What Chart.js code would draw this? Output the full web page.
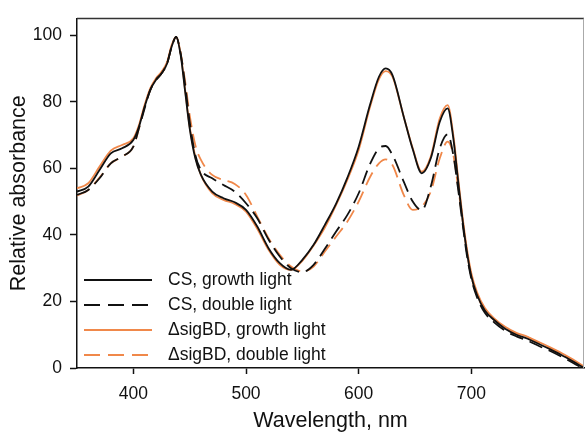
<!DOCTYPE html>
<html>
<head>
<meta charset="utf-8">
<script src="https://cdn.jsdelivr.net/npm/chart.js@4/dist/chart.umd.min.js"></script>
<style>
  html, body { margin: 0; padding: 0; background: #fff; }
  #wrap { width: 585px; height: 433px; }
</style>
</head>
<body>
<div id="wrap"><canvas id="chart" width="585" height="433"></canvas></div>
<script>
// Wavelength grid (nm)
const wavelengths = [350, 360, 370, 380, 390, 400, 405, 410, 415, 420, 425, 430, 434, 438, 442, 446, 450, 455, 460, 470,
  480, 490, 500, 510, 520, 530, 540, 550, 560, 570, 580, 590, 600, 610, 618, 624, 630, 640, 648, 656,
  664, 672, 679, 684, 688, 692, 696, 700, 705, 712, 720, 730, 740, 750, 760, 770, 780, 790, 800];

const csGrowth = [53, 54.5, 59.5, 64.5, 66, 68.5, 72.5, 78.5, 83.5, 86.5, 88.5, 91.5, 96.5, 99.5, 94, 83, 72, 63, 58, 53,
  51, 49.8, 47.5, 42.5, 36, 31.5, 29.5, 32.5, 37, 43, 49.4, 57.2, 66.5, 79, 87.5, 90, 88, 75.5, 65.7, 58.5,
  63, 74, 78, 69, 57, 45, 35, 27.5, 22, 17.3, 14.5, 11.8, 10, 8.8, 7.2, 5.6, 3.9, 2.0, 0];

const csDouble = [52, 53.5, 57, 61.5, 63.5, 66.5, 72, 78, 83.5, 86.5, 88.5, 91.5, 96.5, 99.5, 94.5, 85, 74, 64, 59.5, 57,
  55, 53, 49.5, 45, 38.6, 33.5, 30, 28.8, 31, 35.8, 41, 46, 52.5, 61.2, 66, 66.7, 64, 56, 50, 47.4,
  54.5, 66, 70.2, 64, 54.4, 44, 34, 26.8, 21.3, 16.6, 13.8, 11.2, 9.5, 8.2, 6.6, 5.1, 3.4, 1.6, -0.3];

const sigGrowth = [54, 55.5, 60.5, 65.3, 67, 69, 73, 79, 84, 87, 89, 92, 97, 99.5, 94.5, 83.5, 72.5, 63.5, 58, 52.5,
  50.5, 49.3, 47, 41.8, 35.5, 31, 29.5, 32.2, 36.8, 42.2, 49, 56.6, 65.5, 78.3, 86.8, 89.2, 87.5, 75.5, 66, 59,
  63.5, 75, 79, 70, 58, 46, 36, 28.5, 22.8, 18, 15, 12.4, 10.6, 9.4, 7.8, 6.2, 4.5, 2.6, 0.5];

const sigDouble = [51.8, 53.5, 57.2, 61.5, 63.5, 66.5, 72, 78.5, 83.5, 86.5, 88.5, 91.5, 96.5, 99.5, 94.5, 86, 76, 67, 62.5, 58,
  56.5, 55.3, 52, 45.5, 39, 34, 30.5, 29, 30.5, 35, 39.5, 44, 50, 57.3, 61.5, 62.7, 61, 52, 47.5, 48.5,
  53, 63, 68, 64, 55, 45, 35, 27.5, 22, 17.3, 14.5, 12, 10.3, 9.2, 7.5, 5.9, 4.2, 2.3, 0.3];

const seriesLabels = ["CS, growth light", "CS, double light", "\u0394sigBD, growth light", "\u0394sigBD, double light"];
const xTicks = [400, 500, 600, 700];
const yTicks = [0, 20, 40, 60, 80, 100];

const BLACK = "#111111";
const ORANGE = "#f0884a";
const DASH = [14, 7];
const FONT = "'Liberation Sans', Arial, sans-serif";

function pts(values) {
  return wavelengths.map((w, i) => ({ x: w, y: values[i] }));
}

function ds(label, values, color, dashed) {
  return {
    label: label,
    data: pts(values),
    borderColor: color,
    backgroundColor: color,
    borderWidth: 1.8,
    borderDash: dashed ? DASH : [],
    pointRadius: 0,
    cubicInterpolationMode: "monotone",
    fill: false,
  };
}

// Legend drawn inside the plot, lower left (+ top/right frame)
const insideLegend = {
  id: "insideLegend",
  afterDraw(chart) {
    const c = chart.ctx;
    const a = chart.chartArea;
    c.save();
    c.lineWidth = 1.5;
    c.strokeStyle = "#333";
    c.beginPath();
    c.moveTo(a.left, a.top);
    c.lineTo(a.right, a.top);
    c.stroke();
    c.lineWidth = 1;
    c.strokeStyle = "#aaa";
    c.beginPath();
    c.moveTo(a.right - 0.5, a.top);
    c.lineTo(a.right - 0.5, a.bottom);
    c.stroke();

    c.font = "17.5px " + FONT;
    c.textBaseline = "middle";
    c.fillStyle = "#111";
    chart.data.datasets.forEach((d, i) => {
      const y = a.bottom - 88 + i * 25;
      c.strokeStyle = d.borderColor;
      c.lineWidth = 1.8;
      c.setLineDash(d.borderDash.length ? [16, 8] : []);
      c.beginPath();
      c.moveTo(a.left + 7, y);
      c.lineTo(a.left + 75, y);
      c.stroke();
      c.setLineDash([]);
      c.fillText(d.label, a.left + 91, y);
    });
    c.restore();
  },
};

const ctx = document.getElementById("chart").getContext("2d");
new Chart(ctx, {
  type: "line",
  data: {
    datasets: [
      ds(seriesLabels[0], csGrowth, BLACK, false),
      ds(seriesLabels[1], csDouble, BLACK, true),
      ds(seriesLabels[2], sigGrowth, ORANGE, false),
      ds(seriesLabels[3], sigDouble, ORANGE, true),
    ],
  },
  options: {
    responsive: false,
    animation: false,
    layout: { padding: { top: 11, right: 1, left: 0, bottom: 0 } },
    plugins: { legend: { display: false }, tooltip: { enabled: false } },
    scales: {
      x: {
        type: "linear",
        min: 350,
        max: 800,
        afterBuildTicks: (axis) => { axis.ticks = xTicks.map((v) => ({ value: v })); },
        afterFit: (axis) => { axis.height = 65; },
        grid: { drawOnChartArea: false, drawTicks: true, tickLength: 6, tickWidth: 1.5, tickColor: "#111" },
        border: { display: true, color: "#111", width: 1.5 },
        ticks: { color: "#111", font: { family: FONT, size: 17.5 }, padding: 10, maxRotation: 0 },
        title: { display: true, text: "Wavelength, nm", color: "#111", font: { family: FONT, size: 21.5 }, padding: { top: 0, bottom: -1 } },
      },
      y: {
        min: 0,
        max: 105,
        afterBuildTicks: (axis) => { axis.ticks = yTicks.map((v) => ({ value: v })); },
        afterFit: (axis) => { axis.width = 77; },
        grid: { drawOnChartArea: false, drawTicks: true, tickLength: 7, tickWidth: 1.5, tickColor: "#111" },
        border: { display: true, color: "#111", width: 1.5 },
        ticks: { color: "#111", font: { family: FONT, size: 17.5 }, padding: 8 },
        title: { display: true, text: "Relative absorbance", color: "#111", font: { family: FONT, size: 21.5 }, padding: { top: 6, bottom: 0 } },
      },
    },
  },
  plugins: [insideLegend],
});
</script>
</body>
</html>
